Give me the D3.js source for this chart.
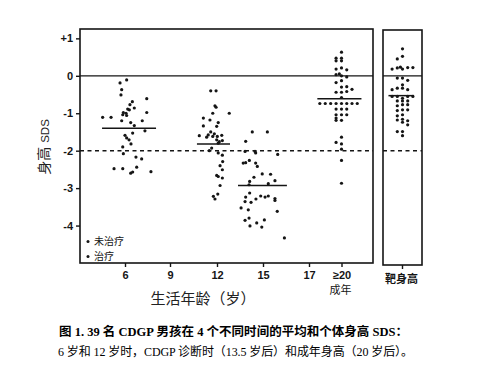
<!DOCTYPE html>
<html>
<head>
<meta charset="utf-8">
<script src="https://cdn.jsdelivr.net/npm/d3@7"></script>
<style>
  body { margin: 0; background: #fff; }
  svg { display: block; }
</style>
</head>
<body>
<svg width="480" height="382"></svg>
<script>
// ages on the x axis, height SDS on y
const xTicks = [6, 9, 12, 15, 17, 20]
const xTickLabels = ["6", "9", "12", "15", "17", "≥20"]
const yTicks = [1, 0, -1, -2, -3, -4]
const yTickLabels = ["+1", "0", "-1", "-2", "-3", "-4"]
const refLines = [0, -2]

const age6 = [
  [5.67, -0.19], [6.11, -0.11], [5.78, -0.37], [5.73, -0.51], [6.49, -0.69],
  [6.33, -0.77], [7.45, -0.61], [6.18, -0.89], [6.29, -0.91], [6.62, -0.86],
  [5.89, -0.98], [6.07, -1.00], [5.85, -1.04], [6.11, -1.06], [4.51, -1.11],
  [5.07, -1.11], [7.45, -0.98], [5.78, -1.20], [6.38, -1.25], [6.62, -1.33],
  [7.15, -1.20], [7.33, -1.47], [6.51, -1.53], [6.00, -1.59], [6.11, -1.66],
  [6.27, -1.71], [6.40, -1.82], [5.85, -1.90], [5.89, -2.08], [6.73, -2.17],
  [7.11, -2.22], [5.27, -2.48], [5.85, -2.48], [6.38, -2.60], [6.51, -2.57],
  [6.78, -2.44], [7.73, -2.56]
]
const age12 = [
  [11.60, -0.40], [11.94, -0.40], [11.87, -0.80], [11.94, -0.84], [12.80, -1.00],
  [11.73, -1.00], [11.13, -1.13], [11.55, -1.18], [12.08, -1.25], [11.13, -1.34],
  [11.98, -1.35], [11.60, -1.50], [10.87, -1.60], [11.44, -1.58], [11.83, -1.55],
  [11.73, -1.62], [12.02, -1.62], [12.31, -1.59], [11.34, -1.64], [11.98, -1.71],
  [12.15, -1.76], [12.35, -1.73], [12.08, -1.80], [11.66, -1.93], [11.51, -2.00],
  [12.08, -2.06], [12.35, -2.12], [12.37, -2.29], [12.20, -2.40], [12.35, -2.51],
  [11.98, -2.66], [12.08, -2.69], [12.35, -2.73], [12.20, -2.93], [12.05, -3.16],
  [11.77, -3.22], [11.87, -3.29]
]
const age15 = [
  [14.30, -1.50], [15.19, -1.50], [13.87, -1.75], [13.83, -2.02], [14.48, -2.02],
  [14.52, -2.06], [15.64, -2.10], [13.71, -2.33], [13.87, -2.32], [14.11, -2.26],
  [14.52, -2.33], [14.63, -2.42], [14.95, -2.62], [15.33, -2.63], [14.41, -2.71],
  [15.52, -2.80], [14.13, -2.82], [14.09, -2.91], [15.23, -2.88], [14.13, -3.13],
  [14.85, -3.21], [15.09, -3.24], [15.23, -3.21], [15.52, -3.28], [15.52, -3.33],
  [14.54, -3.29], [13.87, -3.24], [14.22, -3.38], [13.83, -3.36], [13.57, -3.53],
  [14.04, -3.58], [15.62, -3.62], [13.83, -3.86], [14.09, -3.80], [14.15, -4.01],
  [14.59, -3.93], [14.92, -4.04], [15.06, -3.85], [15.93, -4.33]
]
const adult = [
  [20, 0.63],
  [19.5, 0.47], [20, 0.47], [19.5, 0.40], [20, 0.40],
  [19.5, 0.18], [20, 0.21], [20.5, 0.16],
  [19.5, 0.03], [19.8, 0.05], [20, 0.0], [20.5, -0.03],
  [19.5, -0.18], [20, -0.13],
  [20, -0.30], [20.5, -0.29],
  [19.5, -0.44], [20, -0.44], [20.5, -0.42], [21, -0.36],
  [20, -0.58],
  [18, -0.74], [18.5, -0.74], [19, -0.74], [19.5, -0.74], [20, -0.74], [20.5, -0.74], [21, -0.74], [21.5, -0.74],
  [19.5, -0.89], [20, -0.89], [20.5, -0.89],
  [19.5, -1.04], [20, -1.04], [20.5, -1.04],
  [19.5, -1.13], [19.5, -1.19], [20, -1.19],
  [20, -1.64],
  [19.5, -1.78], [20, -1.82],
  [20, -1.96],
  [20, -2.26],
  [20, -2.87]
]
const groupMeans = [-1.40, -1.82, -2.93, -0.61]
const meanSpans = [[4.47, 8.07], [10.72, 12.85], [13.37, 16.04], [17.77, 21.9]]

// target height panel: column index, SDS
const target = [
  [0, 0.72],
  [-1, 0.45], [0, 0.52],
  [-2, 0.18], [-1, 0.21], [-0.4, 0.23], [0, 0.18], [1, 0.22], [2, 0.22],
  [-1, -0.06], [0, -0.06], [1, -0.12],
  [0, -0.24],
  [-2, -0.37], [-1, -0.33], [0, -0.33], [1, -0.37],
  [-2, -0.55], [-1, -0.55], [0, -0.60], [1, -0.55], [2, -0.55],
  [-1, -0.67], [0, -0.67], [1, -0.67],
  [-1, -0.80], [0, -0.77], [1, -0.77],
  [-1, -0.93], [0, -0.91], [1, -0.91],
  [-1, -1.07], [0, -1.04],
  [-1, -1.18], [0, -1.16], [0, -1.24], [1, -1.20],
  [1, -1.31],
  [-1, -1.49], [0, -1.49],
  [0, -1.60]
]
const targetMean = -0.53
const targetMeanSpan = [-2.7, 2.2]

const legendLabels = ["未治疗", "治疗"]
const caption = [
  "图 1. 39 名 CDGP 男孩在 4 个不同时间的平均和个体身高 SDS：",
  "6 岁和 12 岁时，CDGP 诊断时（13.5 岁后）和成年身高（20 岁后）。"
]

var ink = "#151515",
    sansFont = "'Liberation Sans', Arial, sans-serif",
    cjkFont = "'Noto Sans CJK SC', sans-serif",
    serifFont = "'Liberation Serif', 'Noto Sans CJK SC', serif"

var svg = d3.select("svg")

var x = d3.scaleLinear()
    .domain([3, 6, 9, 12, 15, 17, 20, 23])
    .range([80, 125, 170, 217, 263, 309, 341.5, 373])
var y = d3.scaleLinear().domain([-5, 1.25]).range([263, 29])
var xt = d3.scaleLinear().domain([-3.75, 3.75]).range([383, 422])

var main = { x0: 80, x1: 373, y0: 29, y1: 263 },
    side = { x0: 383, x1: 422, y0: 30, y1: 265 }

// frames
;[main, side].forEach(function (p) {
  svg.append("rect")
    .attr("x", p.x0).attr("y", p.y0)
    .attr("width", p.x1 - p.x0).attr("height", p.y1 - p.y0)
    .attr("fill", "none").attr("stroke", ink).attr("stroke-width", 1.6)
})

// reference lines at 0 and -2
refLines.forEach(function (v) {
  ;[main, side].forEach(function (p) {
    svg.append("line")
      .attr("x1", p.x0).attr("x2", p.x1)
      .attr("y1", y(v)).attr("y2", y(v))
      .attr("stroke", ink)
      .attr("stroke-width", v === 0 ? 1.3 : 1.5)
      .attr("stroke-dasharray", v === 0 ? null : "4,3.5")
  })
})

// y axis
var yAxis = d3.axisLeft(y)
    .tickValues(yTicks)
    .tickFormat((d, i) => yTickLabels[i])
    .tickSize(4)
    .tickPadding(3)
var gy = svg.append("g").attr("transform", "translate(" + main.x0 + ",0)").call(yAxis)
gy.select(".domain").remove()
gy.selectAll("line").attr("stroke", ink).attr("stroke-width", 1.4)
gy.selectAll("text")
    .style("font-family", sansFont).style("font-weight", "bold")
    .style("font-size", "11px").attr("fill", ink)

// x axis
var xAxis = d3.axisBottom(x)
    .tickValues(xTicks)
    .tickFormat((d, i) => xTickLabels[i])
    .tickSize(4)
    .tickPadding(4)
var gx = svg.append("g").attr("transform", "translate(0," + main.y1 + ")").call(xAxis)
gx.select(".domain").remove()
gx.selectAll("line").attr("stroke", ink).attr("stroke-width", 1.4)
gx.selectAll("text")
    .style("font-family", sansFont).style("font-weight", "bold")
    .style("font-size", "11px").attr("fill", ink)

svg.append("text")
    .attr("x", x(20) - 1).attr("y", 294)
    .attr("text-anchor", "middle")
    .style("font-family", cjkFont).style("font-size", "11px")
    .attr("fill", ink)
    .text("成年")

// target panel axis
svg.append("line")
    .attr("x1", xt(0)).attr("x2", xt(0))
    .attr("y1", side.y1).attr("y2", side.y1 + 4)
    .attr("stroke", ink).attr("stroke-width", 1.4)
svg.append("text")
    .attr("x", xt(0) - 1).attr("y", 283)
    .attr("text-anchor", "middle")
    .style("font-family", cjkFont).style("font-size", "11px").style("font-weight", "bold")
    .attr("fill", ink)
    .text("靶身高")

// points
var groups = [age6, age12, age15, adult]
groups.forEach(function (pts) {
  svg.append("g").selectAll("circle")
    .data(pts)
    .enter().append("circle")
    .attr("cx", d => x(d[0]))
    .attr("cy", d => y(d[1]))
    .attr("r", 1.6)
    .attr("fill", ink)
})
svg.append("g").selectAll("circle")
    .data(target)
    .enter().append("circle")
    .attr("cx", d => xt(d[0]))
    .attr("cy", d => y(d[1]))
    .attr("r", 1.6)
    .attr("fill", ink)

// mean lines
svg.append("g").selectAll("line")
    .data(groupMeans)
    .enter().append("line")
    .attr("x1", (d, i) => x(meanSpans[i][0]))
    .attr("x2", (d, i) => x(meanSpans[i][1]))
    .attr("y1", d => y(d)).attr("y2", d => y(d))
    .attr("stroke", ink).attr("stroke-width", 1.5)
svg.append("line")
    .attr("x1", xt(targetMeanSpan[0])).attr("x2", xt(targetMeanSpan[1]))
    .attr("y1", y(targetMean)).attr("y2", y(targetMean))
    .attr("stroke", ink).attr("stroke-width", 1.5)

// legend
var lg = svg.append("g")
lg.selectAll("circle")
    .data(legendLabels)
    .enter().append("circle")
    .attr("cx", 88).attr("cy", (d, i) => 241.5 + i * 15)
    .attr("r", 1.5).attr("fill", ink)
lg.selectAll("text")
    .data(legendLabels)
    .enter().append("text")
    .attr("x", 94).attr("y", (d, i) => 245 + i * 15)
    .style("font-family", cjkFont).style("font-size", "10px")
    .attr("fill", ink)
    .text(d => d)

// axis titles
var yl = svg.append("text")
    .attr("transform", "translate(49,147) rotate(-90)")
    .attr("text-anchor", "middle")
    .attr("fill", "#222")
yl.append("tspan").style("font-family", cjkFont).style("font-size", "14px").text("身高")
yl.append("tspan").style("font-family", sansFont).style("font-size", "11.5px").attr("dx", 4).text("SDS")

svg.append("text")
    .attr("x", 203).attr("y", 304)
    .attr("text-anchor", "middle")
    .style("font-family", cjkFont).style("font-size", "15px")
    .attr("fill", "#222")
    .text("生活年龄（岁）")

// caption
svg.append("text")
    .attr("x", 59).attr("y", 336)
    .attr("textLength", 349).attr("lengthAdjust", "spacing")
    .style("font-family", serifFont).style("font-size", "12.5px").style("font-weight", "bold")
    .attr("fill", "#000")
    .text(caption[0])
svg.append("text")
    .attr("x", 58).attr("y", 356)
    .attr("textLength", 355).attr("lengthAdjust", "spacing")
    .style("font-family", serifFont).style("font-size", "12px")
    .attr("fill", "#000")
    .text(caption[1])
</script>
</body>
</html>
